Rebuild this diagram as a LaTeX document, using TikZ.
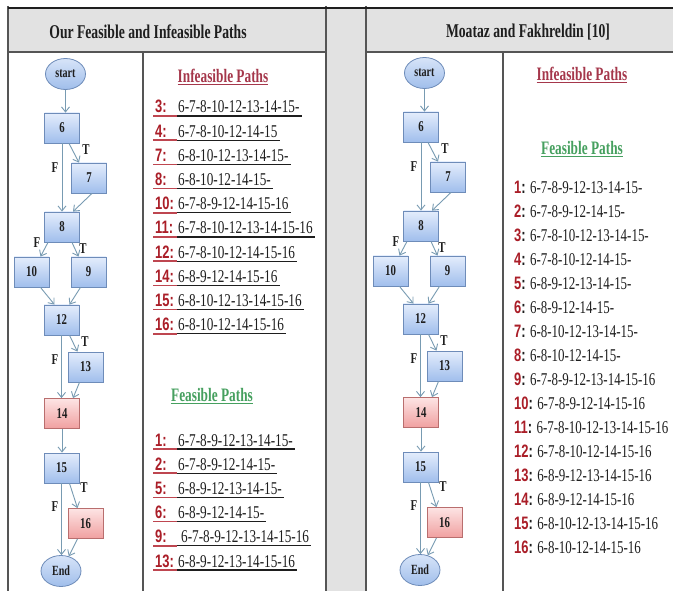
\documentclass[tikz,border=0pt]{standalone}
\usepackage{fontspec}
\setmainfont{Liberation Serif}
\newfontfamily\pathfontL[FakeStretch=0.735]{Liberation Serif}
\newfontfamily\pathfontR[FakeStretch=0.72]{Liberation Serif}
\newfontfamily\titlefont[FakeStretch=0.70]{Liberation Serif}
\newfontfamily\numfont[FakeStretch=0.72]{Liberation Sans}
\newfontfamily\nodefont[FakeStretch=0.72]{Liberation Serif}
\usetikzlibrary{arrows.meta,shapes.geometric}
\definecolor{hdrgray}{RGB}{226,226,226}
\definecolor{gridline}{RGB}{85,85,85}
\definecolor{numred}{RGB}{170,30,40}
\definecolor{ulred}{RGB}{190,70,80}
\definecolor{ttlred}{RGB}{165,55,75}
\definecolor{ttlgreen}{RGB}{70,160,95}
\definecolor{bluetop}{RGB}{228,237,252}
\definecolor{bluebot}{RGB}{160,190,236}
\definecolor{blueborder}{RGB}{110,140,185}
\definecolor{redtop}{RGB}{253,228,228}
\definecolor{redbot}{RGB}{240,160,160}
\definecolor{redborder}{RGB}{185,110,110}
\definecolor{ovaltop}{RGB}{215,228,248}
\definecolor{ovalbot}{RGB}{160,190,235}
\definecolor{arrowc}{RGB}{120,155,178}
\definecolor{inkc}{RGB}{30,30,30}

\newcommand\flowchart[1]{%
  \node[oval] (#1st) at (65.5,74) {start};
  \node[bbox] (#16) at (62,128) {6};
  \node[bbox] (#17) at (89,178) {7};
  \node[bbox] (#18) at (62,227) {8};
  \node[bbox] (#110) at (31.5,272) {10};
  \node[bbox] (#19) at (88.5,272) {9};
  \node[bbox] (#112) at (61.5,320) {12};
  \node[bbox] (#113) at (85.5,367) {13};
  \node[rbox] (#114) at (62,413.5) {14};
  \node[bbox] (#115) at (61.5,468) {15};
  \node[rbox] (#116) at (85.5,523.5) {16};
  \node[oval] (#1end) at (61,571) {End};
  \draw[arr] (#1st.south) -- (#1st.south |- #16.north);
  \draw[arr] (#16.south) -- (#18.north);
  \draw[arr] ([xshift=7pt]#16.south) -- ([xshift=-10pt]#17.north);
  \draw[arr] ([xshift=3pt]#17.south) -- ([xshift=11pt]#18.north);
  \draw[arr] ([xshift=-14pt]#18.south) -- ([xshift=9pt]#110.north);
  \draw[arr] ([xshift=10pt]#18.south) -- ([xshift=-10pt]#19.north);
  \draw[arr] ([xshift=9pt]#110.south) -- ([xshift=-7pt]#112.north);
  \draw[arr] ([xshift=-8pt]#19.south) -- ([xshift=8pt]#112.north);
  \draw[arr] (#112.south) -- (#112.south |- #114.north);
  \draw[arr] ([xshift=8pt]#112.south) -- ([xshift=-8pt]#113.north);
  \draw[arr] ([xshift=-6pt]#113.south) -- ([xshift=11pt]#114.north);
  \draw[arr] (#114.south) -- (#114.south |- #115.north);
  \draw[arr] (#115.south) -- (#115.south |- #1end.north);
  \draw[arr] ([xshift=8pt]#115.south) -- ([xshift=-8pt]#116.north);
  \draw[arr] ([xshift=-8pt]#116.south) -- (#1end.62);
  \node[lbl] (#1la) at (86,150) {T};
  \node[lbl] (#1lb) at (55,168) {F};
  \node[lbl] (#1lc) at (37,243) {F};
  \node[lbl] (#1ld) at (83,249) {T};
  \node[lbl] (#1le) at (85,342) {T};
  \node[lbl] (#1lf) at (55,360) {F};
  \node[lbl] (#1lg) at (84,488) {T};
  \node[lbl] (#1lh) at (55,507) {F};
}

% left rows: name, baseline y, number, path x, path
\newcommand\lrow[5]{%
  \node[lnum] (#1n) at (155,#2) {#3:};
  \node[lpath] (#1p) at (#4,#2) {#5};
  \draw[redul] (153,#2+3) -- (177,#2+3);
  \draw[blkul] (177,#2+3) -- ([xshift=2pt,yshift=-3pt]#1p.base east);
}
% right rows: name, baseline y, number, path
\newcommand\rrow[4]{%
  \node[rtext] (#1) at (514,#2) {{\numfont\bfseries\textcolor{numred}{#3}:} #4};
}

\begin{document}
\begin{tikzpicture}[x=1pt,y=-1pt,
  gridl/.style={draw=gridline, line width=1.1pt},
  bbox/.style={draw=blueborder, line width=0.8pt, top color=bluetop, bottom color=bluebot,
    minimum width=35pt, minimum height=30pt, inner sep=0pt, text=inkc,
    font=\nodefont\bfseries\fontsize{15}{15}\selectfont},
  rbox/.style={bbox, draw=redborder, top color=redtop, bottom color=redbot},
  oval/.style={ellipse, draw=blueborder, line width=0.8pt, top color=ovaltop, bottom color=ovalbot,
    minimum width=40pt, minimum height=31pt, inner sep=0pt, text=inkc,
    font=\nodefont\bfseries\fontsize{14}{14}\selectfont},
  arr/.style={draw=arrowc, line width=0.9pt, -{Straight Barb[length=5pt,width=8pt]}},
  lbl/.style={inner sep=0pt, text=inkc, font=\nodefont\bfseries\fontsize{15}{15}\selectfont},
  htext/.style={inner sep=0pt, text=inkc, font=\titlefont\bfseries\fontsize{19.5}{19.5}\selectfont},
  ttl/.style={inner sep=0pt, font=\titlefont\bfseries\fontsize{19}{19}\selectfont},
  lnum/.style={anchor=base west, inner sep=0pt, text=numred, font=\numfont\bfseries\fontsize{18}{18}\selectfont},
  lpath/.style={anchor=base west, inner sep=0pt, text=inkc, font=\pathfontL\fontsize{18}{18}\selectfont},
  rtext/.style={anchor=base west, inner sep=0pt, text=inkc, font=\pathfontR\fontsize{18}{18}\selectfont},
  redul/.style={draw=ulred, line width=1.5pt},
  blkul/.style={draw=inkc, line width=1.3pt}
]
\useasboundingbox (0,0) rectangle (673,591);
\fill[white] (0,0) rectangle (673,591);
% table background
\fill[hdrgray] (8,8) rectangle (673,52);
\fill[hdrgray] (326,8) rectangle (366,591);
% grid lines
\draw[gridl] (8,6) -- (8,591);
\draw[gridl] (326,6) -- (326,591);
\draw[gridl] (366,6) -- (366,591);
\draw[gridl] (143,52) -- (143,591);
\draw[gridl] (503,52) -- (503,591);
\draw[gridl] (8,52) -- (326,52);
\draw[gridl] (366,52) -- (673,52);
\draw[draw=inkc, line width=2.6pt] (8,8) -- (673,8);
% headers
\node[htext] (hleft) at (148,32) {Our Feasible and Infeasible Paths};
\node[htext] (hright) at (528,32) {Moataz and Fakhreldin [10]};

% flowcharts
\flowchart{L}
\begin{scope}[shift={(359,-1)}]
\flowchart{R}
\end{scope}

% left panel titles
\node[ttl, text=ttlred] (tli) at (223,76) {Infeasible Paths};
\draw[draw=ttlred, line width=1pt] ([yshift=-2pt]tli.south west) -- ([yshift=-2pt]tli.south east);
\node[ttl, text=ttlgreen] (tlf) at (212,395) {Feasible Paths};
\draw[draw=ttlgreen, line width=1pt] ([yshift=-2pt]tlf.south west) -- ([yshift=-2pt]tlf.south east);

% left infeasible rows
\lrow{LIa}{113}{3}{178}{6-7-8-10-12-13-14-15-}
\lrow{LIb}{137.2}{4}{178}{6-7-8-10-12-14-15}
\lrow{LIc}{161.4}{7}{178}{6-8-10-12-13-14-15-}
\lrow{LId}{185.6}{8}{178}{6-8-10-12-14-15-}
\lrow{LIe}{209.8}{10}{178}{6-7-8-9-12-14-15-16}
\lrow{LIf}{234}{11}{178}{6-7-8-10-12-13-14-15-16}
\lrow{LIg}{258.2}{12}{178}{6-7-8-10-12-14-15-16}
\lrow{LIh}{282.4}{14}{178}{6-8-9-12-14-15-16}
\lrow{LIi}{306.6}{15}{178}{6-8-10-12-13-14-15-16}
\lrow{LIj}{330.8}{16}{178}{6-8-10-12-14-15-16}
% left feasible rows
\lrow{LFa}{446}{1}{178}{6-7-8-9-12-13-14-15-}
\lrow{LFb}{470.2}{2}{178}{6-7-8-9-12-14-15-}
\lrow{LFc}{494.4}{5}{178}{6-8-9-12-13-14-15-}
\lrow{LFd}{518.6}{6}{178}{6-8-9-12-14-15-}
\lrow{LFe}{542.8}{9}{181}{6-7-8-9-12-13-14-15-16}
\lrow{LFf}{567}{13}{178}{6-8-9-12-13-14-15-16}

% right panel titles
\node[ttl, text=ttlred] (tri) at (582,74) {Infeasible Paths};
\draw[draw=ttlred, line width=1pt] ([yshift=-2pt]tri.south west) -- ([yshift=-2pt]tri.south east);
\node[ttl, text=ttlgreen] (trf) at (582,148) {Feasible Paths};
\draw[draw=ttlgreen, line width=1pt] ([yshift=-2pt]trf.south west) -- ([yshift=-2pt]trf.south east);

% right rows
\rrow{Ra}{194}{1}{6-7-8-9-12-13-14-15-}
\rrow{Rb}{218}{2}{6-7-8-9-12-14-15-}
\rrow{Rc}{241.9}{3}{6-7-8-10-12-13-14-15-}
\rrow{Rd}{265.8}{4}{6-7-8-10-12-14-15-}
\rrow{Re}{289.7}{5}{6-8-9-12-13-14-15-}
\rrow{Rf}{313.7}{6}{6-8-9-12-14-15-}
\rrow{Rg}{337.6}{7}{6-8-10-12-13-14-15-}
\rrow{Rh}{361.5}{8}{6-8-10-12-14-15-}
\rrow{Ri}{385.4}{9}{6-7-8-9-12-13-14-15-16}
\rrow{Rj}{409.4}{10}{6-7-8-9-12-14-15-16}
\rrow{Rk}{433.3}{11}{6-7-8-10-12-13-14-15-16}
\rrow{Rl}{457.2}{12}{6-7-8-10-12-14-15-16}
\rrow{Rm}{481.2}{13}{6-8-9-12-13-14-15-16}
\rrow{Rn}{505.1}{14}{6-8-9-12-14-15-16}
\rrow{Ro}{529}{15}{6-8-10-12-13-14-15-16}
\rrow{Rp}{553}{16}{6-8-10-12-14-15-16}
\end{tikzpicture}
\end{document}
